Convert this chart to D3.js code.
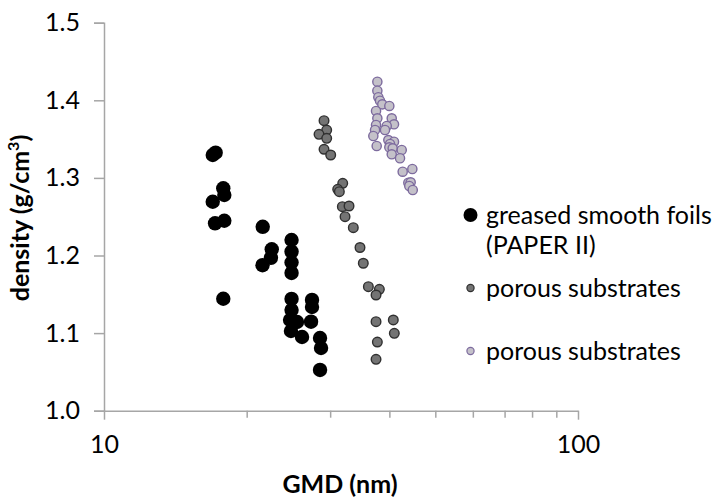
<!DOCTYPE html>
<html>
<head>
<meta charset="utf-8">
<script src="https://cdn.jsdelivr.net/npm/d3@7"></script>
<style>
  html, body { margin: 0; padding: 0; background: #fff; }
  svg { display: block; font-family: Lato, "Open Sans", sans-serif; }
</style>
</head>
<body>
<svg id="chart" width="720" height="497"></svg>
<script>
// GMD (nm) and density (g/cm3) for each sample group
const foilsGMD = [16.96, 17.2, 17.85, 17.94, 16.96, 17.15, 17.94, 17.85,
  21.62, 22.59, 22.5, 21.6,
  24.87, 24.87, 24.87, 24.87,
  24.87, 24.87, 24.69, 25.54, 24.8, 26.17, 27.47, 27.47, 27.34, 28.56, 28.7, 28.56];
const foilsDensity = [1.3295, 1.3325, 1.2866, 1.278, 1.2693, 1.2415, 1.2448, 1.1443,
  1.237, 1.208, 1.197, 1.1875,
  1.22, 1.205, 1.191, 1.1775,
  1.144, 1.1298, 1.1169, 1.1143, 1.1027, 1.095, 1.1427, 1.1336, 1.1147, 1.0937, 1.0808, 1.0525];

const porousAGMD = [29.12, 29.5, 28.42, 29.5, 29.12, 30.08, 31.89, 31.12, 31.37, 31.83, 32.88,
  32.25, 33.57, 34.68, 35.24, 36.12, 38.1, 37.49, 37.49, 40.77, 40.97, 37.73, 37.49];
const porousADensity = [1.3737, 1.3617, 1.3562, 1.351, 1.3369, 1.3295, 1.293, 1.2853, 1.2822, 1.2629, 1.2638,
  1.25, 1.2358, 1.2103, 1.19, 1.1598, 1.1564, 1.1491, 1.1147, 1.1169, 1.0997, 1.0885, 1.0662];

const porousBGMD = [37.73, 37.73, 37.91, 38.22, 38.65, 39.99, 37.49, 37.73, 40.46, 37.49, 40.91, 39.49,
  37.31, 39.16, 37.0, 39.8, 40.91, 40.13, 37.61, 39.99, 40.65, 42.47, 40.46, 42.12, 42.67, 44.72,
  43.86, 44.36, 44.06, 44.81];
const porousBDensity = [1.424, 1.4124, 1.4039, 1.3995, 1.3948, 1.3927, 1.3862, 1.3768, 1.3768, 1.3682, 1.3691, 1.3669,
  1.3617, 1.3617, 1.354, 1.3488, 1.3466, 1.3437, 1.3411, 1.3394, 1.3381, 1.336, 1.3304, 1.3253, 1.308, 1.3115,
  1.2938, 1.2943, 1.2896, 1.2844];

const yTicks = [1.0, 1.1, 1.2, 1.3, 1.4, 1.5];
const xMajorTicks = [10, 100];
const xMinorTicks = [20, 30, 40, 50, 60, 70, 80, 90];
const legendLabels = [["greased smooth foils", "(PAPER II)"], ["porous substrates"], ["porous substrates"]];

const svg = d3.select("#chart");
const plot = { left: 104, top: 22.7, width: 474, height: 388 };

const x = d3.scaleLog().domain([10, 100]).range([plot.left, plot.left + plot.width]);
const y = d3.scaleLinear().domain([1.0, 1.5]).range([plot.top + plot.height, plot.top]);

const axisColor = "#a6a6a6";
const labelSize = 25;

// y axis
const yAxis = svg.append("g")
  .attr("transform", `translate(${plot.left},0)`)
  .call(d3.axisLeft(y).tickValues(yTicks).tickFormat(d3.format(".1f")).tickSize(10).tickPadding(14));
yAxis.select(".domain").attr("stroke", axisColor).attr("stroke-width", 1.5);
yAxis.selectAll(".tick line").attr("stroke", axisColor).attr("stroke-width", 1.5);
yAxis.selectAll(".tick text").attr("fill", "#000").attr("font-size", labelSize)
  .attr("font-family", "Lato, sans-serif");

// x axis (log scale, decade labels with minor ticks)
const xAxis = svg.append("g")
  .attr("transform", `translate(0,${plot.top + plot.height})`)
  .call(d3.axisBottom(x).tickValues(xMajorTicks.concat(xMinorTicks))
    .tickFormat(d => xMajorTicks.includes(d) ? d3.format("d")(d) : "")
    .tickSize(9).tickPadding(16).tickSizeOuter(0));
xAxis.select(".domain").attr("stroke", axisColor).attr("stroke-width", 1.5);
xAxis.selectAll(".tick line").attr("stroke", axisColor).attr("stroke-width", 1.5)
  .attr("y2", d => xMajorTicks.includes(d) ? 9 : 7);
xAxis.selectAll(".tick text").attr("fill", "#000").attr("font-size", labelSize)
  .attr("font-family", "Lato, sans-serif");

// axis titles
svg.append("text")
  .attr("x", (plot.left + plot.left + plot.width) / 2 - 1)
  .attr("y", 493)
  .attr("text-anchor", "middle")
  .attr("font-size", labelSize).attr("font-weight", "bold")
  .text("GMD (nm)");

const yTitle = svg.append("text")
  .attr("transform", `translate(29,218) rotate(-90)`)
  .attr("text-anchor", "middle")
  .attr("font-size", labelSize).attr("font-weight", "bold");
yTitle.append("tspan").text("density (g/cm");
yTitle.append("tspan").attr("font-size", 16).attr("dy", -10).text("3");
yTitle.append("tspan").attr("dy", 10).text(")");

// series styles
const series = [
  { gx: porousBGMD, gy: porousBDensity, r: 4.6, fill: "#c4c1c9", stroke: "#7d6b9e", sw: 1.4 },
  { gx: porousAGMD, gy: porousADensity, r: 4.8, fill: "#747474", stroke: "#303030", sw: 1.4 },
  { gx: foilsGMD, gy: foilsDensity, r: 7.2, fill: "#000", stroke: "#000", sw: 0 }
];

series.forEach(s => {
  const pts = s.gx.map((g, i) => [g, s.gy[i]]);
  svg.append("g").selectAll("circle").data(pts).join("circle")
    .attr("cx", d => x(d[0]))
    .attr("cy", d => y(d[1]))
    .attr("r", s.r)
    .attr("fill", s.fill)
    .attr("stroke", s.stroke)
    .attr("stroke-width", s.sw);
});

// legend
const legend = svg.append("g");
const legendRows = [
  { cy: 215, r: 7, fill: "#000", stroke: "#000", sw: 0, lines: legendLabels[0] },
  { cy: 288, r: 3.6, fill: "#747474", stroke: "#303030", sw: 1.2, lines: legendLabels[1] },
  { cy: 351, r: 3.6, fill: "#c4c1c9", stroke: "#7d6b9e", sw: 1.2, lines: legendLabels[2] }
];
legendRows.forEach(row => {
  legend.append("circle").attr("cx", 470.5).attr("cy", row.cy).attr("r", row.r)
    .attr("fill", row.fill).attr("stroke", row.stroke).attr("stroke-width", row.sw);
  row.lines.forEach((line, i) => {
    legend.append("text")
      .attr("x", 486).attr("y", row.cy + 9 + i * 30)
      .attr("font-size", labelSize)
      .text(line);
  });
});
</script>
</body>
</html>
